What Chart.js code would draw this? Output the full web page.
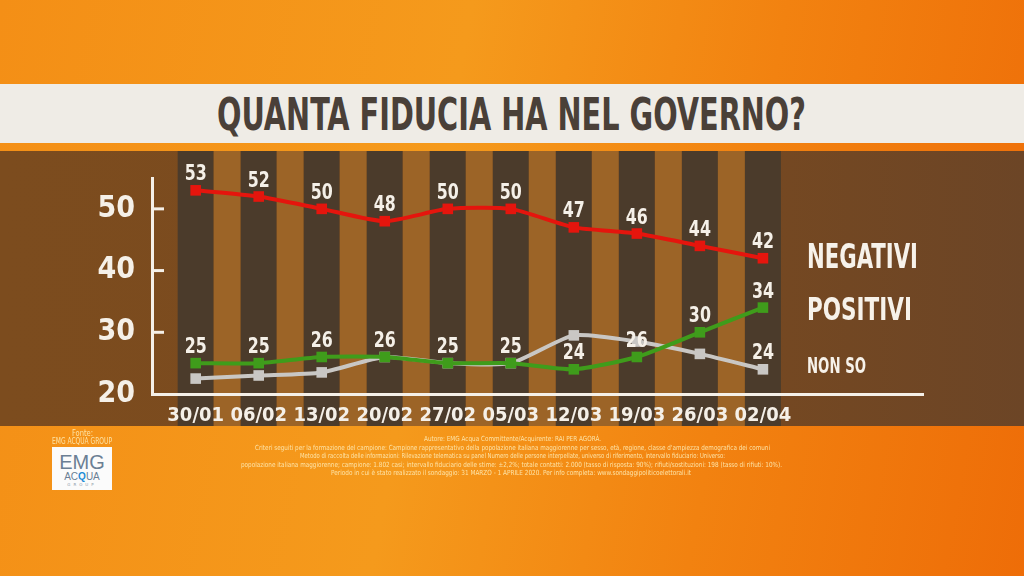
<!DOCTYPE html>
<html lang="it">
<head>
<meta charset="utf-8">
<title>Quanta fiducia ha nel governo?</title>
<script src="https://cdn.jsdelivr.net/npm/chart.js@4/dist/chart.umd.min.js"></script>
<style>
  html, body { margin: 0; padding: 0; }
  body {
    width: 1024px; height: 576px; overflow: hidden; position: relative;
    background: linear-gradient(100deg, #f48f16 0%, #f59a1c 42%, #f28210 70%, #ee6d08 100%);
    font-family: 'DejaVu Sans', sans-serif;
    font-stretch: condensed;
  }
  .band {
    position: absolute; left: 0; top: 84px; width: 1024px; height: 59px;
    background: #efece6;
  }
  .panel {
    position: absolute; left: 0; top: 151px; width: 1024px; height: 275px;
    background: linear-gradient(90deg, #7c4c1e 0%, #7a4a1f 60%, #6c4526 100%);
  }
  .txt { position: absolute; white-space: nowrap; line-height: 1; transform-origin: 0 0; }
  #title { left: 217px; top: 93px; font-size: 44px; font-weight: bold; color: #4a4038; }
  .legend { color: #f7f2ea; font-weight: bold; left: 807px; }
  .foot { color: #fde3a6; font-size: 7px; }
  .logo {
    position: absolute; left: 52px; top: 447px; width: 60px; height: 43px;
    background: #fbfbfb; text-align: center; font-stretch: normal;
  }
  canvas { position: absolute; left: 0; top: 0; }
</style>
</head>
<body>
<div class="band"></div>
<div class="panel"></div>
<div class="txt" id="title" data-w="589">QUANTA FIDUCIA HA NEL GOVERNO?</div>

<canvas id="trustChart" width="1024" height="576"></canvas>

<div class="txt legend" style="top:240px;font-size:33px" data-w="111">NEGATIVI</div>
<div class="txt legend" style="top:293px;font-size:32px" data-w="105">POSITIVI</div>
<div class="txt legend" style="top:355px;font-size:22px" data-w="59">NON SO</div>

<div class="txt foot" style="left:72px;top:430px;font-size:8px" data-w="21">Fonte:</div>
<div class="txt foot" style="left:52px;top:438px;font-size:8px" data-w="60">EMG ACQUA GROUP</div>
<div class="logo">
  <div style="font-size:20px;color:#6b7f94;margin-top:5px;line-height:20px;font-family:'Liberation Sans',sans-serif">EMG</div>
  <div style="font-size:10px;color:#6b7f94;line-height:10px;font-family:'Liberation Sans',sans-serif">AC<span style="color:#1f8dd6;font-weight:bold">Q</span>UA</div>
  <div style="font-size:4px;color:#8d9aa8;letter-spacing:3px;line-height:5px">GROUP</div>
</div>

<div class="txt foot" style="left:424px;top:436px" data-w="177">Autore: EMG Acqua Committente/Acquirente: RAI PER AGORÀ.</div>
<div class="txt foot" style="left:255px;top:445px" data-w="515">Criteri seguiti per la formazione del campione: Campione rappresentativo della popolazione italiana maggiorenne per sesso, età, regione, classe d'ampiezza demografica dei comuni</div>
<div class="txt foot" style="left:300px;top:453px" data-w="425">Metodo di raccolta delle informazioni: Rilevazione telematica su panel Numero delle persone interpellate, universo di riferimento, intervallo fiduciario: Universo:</div>
<div class="txt foot" style="left:241px;top:462px" data-w="541">popolazione italiana maggiorenne; campione: 1.802 casi; intervallo fiduciario delle stime: ±2,2%; totale contatti: 2.000 (tasso di risposta: 90%); rifiuti/sostituzioni: 198 (tasso di rifiuti: 10%).</div>
<div class="txt foot" style="left:331px;top:470px" data-w="360">Periodo in cui è stato realizzato il sondaggio: 31 MARZO - 1 APRILE 2020. Per info completa: www.sondaggipoliticoelettorali.it</div>

<script>
// Survey data
const categories = ['30/01', '06/02', '13/02', '20/02', '27/02', '05/03', '12/03', '19/03', '26/03', '02/04'];
const negativi = [53, 52, 50, 48, 50, 50, 47, 46, 44, 42];
const positivi = [25, 25, 26, 26, 25, 25, 24, 26, 30, 34];
const nonSo = [22.5, 23, 23.5, 26, 25, 25, 29.5, 28.5, 26.5, 24];
const yTicks = [20, 30, 40, 50];

const fontFamily = "'DejaVu Sans', sans-serif";
const textColor = '#f5f0e8';
const panelTop = 151;
const panelBottom = 426;

// Squeeze html text to the widths in the picture
document.querySelectorAll('[data-w]').forEach(function(el) {
    const w = el.getBoundingClientRect().width;
    el.style.transform = 'scaleX(' + (parseFloat(el.dataset.w) / w) + ')';
});

function points(values) {
    return values.map(function(v, i) { return { x: i, y: v }; });
}

// Dark and orange stripes behind the chart
const stripes = {
    id: 'stripes',
    beforeDraw(chart) {
        const ctx = chart.ctx;
        const x = chart.scales.x;
        ctx.save();
        categories.forEach(function(c, i) {
            const cx = x.getPixelForValue(i);
            ctx.fillStyle = '#4b3b2b';
            ctx.fillRect(cx - 18, panelTop, 36, panelBottom - panelTop);
            if (i < categories.length - 1) {
                const nx = x.getPixelForValue(i + 1);
                ctx.fillStyle = '#9c6427';
                ctx.fillRect(cx + 18, panelTop, nx - cx - 36, panelBottom - panelTop);
            }
        });
        ctx.restore();
    }
};

// Small tick stubs inside the y axis
const tickStubs = {
    id: 'tickStubs',
    afterDraw(chart) {
        const ctx = chart.ctx;
        const y = chart.scales.y;
        ctx.save();
        ctx.strokeStyle = textColor;
        ctx.lineWidth = 3;
        [30, 40, 50].forEach(function(v) {
            const py = y.getPixelForValue(v);
            ctx.beginPath();
            ctx.moveTo(chart.chartArea.left, py);
            ctx.lineTo(chart.chartArea.left + 12, py);
            ctx.stroke();
        });
        ctx.restore();
    }
};

// Value labels above the points (narrowed to match the condensed type)
const valueLabels = {
    id: 'valueLabels',
    afterDatasetsDraw(chart) {
        const ctx = chart.ctx;
        ctx.save();
        ctx.font = 'bold condensed 22px ' + fontFamily;
        ctx.fillStyle = textColor;
        ctx.textAlign = 'center';
        ctx.textBaseline = 'alphabetic';
        chart.data.datasets.forEach(function(ds, i) {
            const meta = chart.getDatasetMeta(i);
            meta.data.forEach(function(pt, j) {
                if (ds.onlyLast && j !== meta.data.length - 1) return;
                ctx.save();
                ctx.translate(pt.x, pt.y - 10);
                ctx.scale(0.8, 1);
                ctx.fillText(ds.data[j].y, 0, 0);
                ctx.restore();
            });
        });
        ctx.restore();
    }
};

function lineSet(label, values, color, onlyLast) {
    return {
        label: label,
        data: points(values),
        borderColor: color,
        backgroundColor: color,
        borderWidth: 4,
        tension: 0.2,
        pointStyle: 'rect',
        pointRadius: 7.5,
        pointBorderWidth: 0,
        onlyLast: onlyLast
    };
}

Chart.defaults.font.family = fontFamily;
Chart.defaults.font.weight = 'bold condensed';

new Chart(document.getElementById('trustChart'), {
    type: 'line',
    data: {
        datasets: [
            lineSet('NEGATIVI', negativi, '#e5150d', false),
            lineSet('POSITIVI', positivi, '#3f9c1b', false),
            lineSet('NON SO', nonSo, '#c9c7c4', true)
        ]
    },
    plugins: [stripes, valueLabels, tickStubs],
    options: {
        responsive: false,
        animation: false,
        layout: { padding: { top: 178, right: 101, bottom: 0, left: 0 } },
        plugins: {
            legend: { display: false },
            tooltip: { enabled: false }
        },
        scales: {
            x: {
                type: 'linear',
                min: -0.693,
                max: 11.54,
                afterFit: function(s) { s.height = 576 - 394; },
                grid: { display: false, drawTicks: false },
                border: { display: true, color: textColor, width: 3 },
                ticks: {
                    stepSize: 1,
                    includeBounds: false,
                    autoSkip: false,
                    maxRotation: 0,
                    padding: 10,
                    color: textColor,
                    font: { size: 20, weight: 'bold condensed' },
                    callback: function(v) { return categories[v] || ''; }
                }
            },
            y: {
                min: 20,
                max: 55,
                afterFit: function(s) { s.width = 152; },
                afterBuildTicks: function(s) { s.ticks = yTicks.map(function(v) { return { value: v }; }); },
                grid: { display: false, drawTicks: false },
                border: { display: true, color: textColor, width: 3 },
                ticks: {
                    padding: 17,
                    color: textColor,
                    font: { size: 30, weight: 'bold condensed' }
                }
            }
        }
    }
});
</script>
</body>
</html>
